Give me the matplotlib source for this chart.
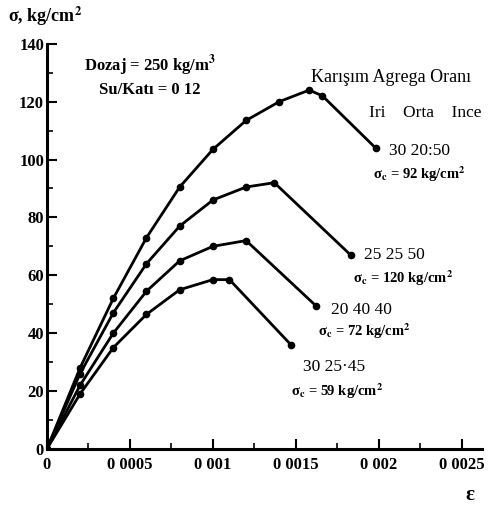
import numpy as np
import matplotlib
matplotlib.use("Agg")
from matplotlib import pyplot as plt
from matplotlib.ticker import MultipleLocator, FixedLocator

plt.rcParams['font.family'] = ['Liberation Serif', 'DejaVu Serif']
plt.rcParams['mathtext.fontset'] = 'stix'

# strain values and stress (kg/cm2) for each mix
eps_a = [0, 0.0002, 0.0004, 0.0006, 0.0008, 0.001, 0.0012, 0.0014, 0.00158, 0.00166, 0.00198]
sig_a = [0, 28, 52, 73, 90.5, 103.5, 113.5, 120, 124, 122, 104]

eps_b = [0, 0.0002, 0.0004, 0.0006, 0.0008, 0.001, 0.0012, 0.00137, 0.00183]
sig_b = [0, 26, 47, 64, 77, 86, 90.5, 92, 67]

eps_c = [0, 0.0002, 0.0004, 0.0006, 0.0008, 0.001, 0.0012, 0.00162]
sig_c = [0, 22, 40, 54.5, 65, 70, 72, 49.5]

eps_d = [0, 0.0002, 0.0004, 0.0006, 0.0008, 0.001, 0.0011, 0.00147]
sig_d = [0, 19, 35, 46.5, 55, 58.5, 58.5, 36]

x_ticks = [0, 0.0005, 0.001, 0.0015, 0.002, 0.0025]
x_labels = ['0', '0 0005', '0 001', '0 0015', '0 002', '0 0025']
y_ticks = [0, 20, 40, 60, 80, 100, 120, 140]

fig = plt.figure(figsize=(5.04, 5.09), dpi=100)
ax = fig.add_axes([0.093, 0.118, 0.863, 0.796])

for e, s in [(eps_a, sig_a), (eps_b, sig_b), (eps_c, sig_c), (eps_d, sig_d)]:
    ax.plot(e, s, color='black', lw=2, marker='o', ms=4.5, mfc='black', mec='black')

ax.set_xlim(0, 0.00262)
ax.set_ylim(0, 140)
ax.spines['top'].set_visible(False)
ax.spines['right'].set_visible(False)
ax.spines['left'].set_linewidth(2.2)
ax.spines['bottom'].set_linewidth(2.2)

ax.xaxis.set_major_locator(FixedLocator(x_ticks))
ax.set_xticklabels(x_labels)
ax.xaxis.set_minor_locator(MultipleLocator(0.00025))
ax.set_yticks(y_ticks)
ax.yaxis.set_minor_locator(MultipleLocator(10))
ax.tick_params(which='major', direction='in', length=7, width=1.5, labelsize=12, pad=6)
ax.tick_params(which='minor', direction='in', length=4, width=1.2)
ax.tick_params(axis='y', pad=2)
for lab in ax.get_xticklabels() + ax.get_yticklabels():
    lab.set_fontweight('bold')

W, H = 504, 509


def put(px, py, s, size=11, ha='left', **kw):
    fig.text(px / W, 1 - py / H, s, fontsize=size, ha=ha, va='center', **kw)


put(8, 16, r'σ, kg/cm$^\mathbf{2}$', size=13, weight='bold')
put(150, 66, r'Dozaj = 250 kg/m$^\mathbf{3}$', size=12, ha='center', weight='bold')
put(150, 90, 'Su/Katı = 0 12', size=12, ha='center', weight='bold')
put(311, 77, 'Karışım Agrega Oranı', size=13)
put(369, 113, 'Iri    Orta    Ince', size=12.5)

put(389, 151, '30 20:50', size=12.5)
put(373, 174, r'σ$_\mathbf{c}$ = 92 kg/cm$^\mathbf{2}$', size=10.5, weight='bold')
put(364, 255, '25 25 50', size=12.5)
put(353, 278, r'σ$_\mathbf{c}$ = 120 kg/cm$^\mathbf{2}$', size=10.5, weight='bold')
put(331, 310, '20 40 40', size=12.5)
put(318, 331, r'σ$_\mathbf{c}$ = 72 kg/cm$^\mathbf{2}$', size=10.5, weight='bold')
put(303, 367, '30 25·45', size=12.5)
put(291, 391, r'σ$_\mathbf{c}$ = 59 kg/cm$^\mathbf{2}$', size=10.5, weight='bold')

put(470, 495, 'ε', size=15, ha='center', weight='bold')

fig.savefig('out.png', dpi=100)
